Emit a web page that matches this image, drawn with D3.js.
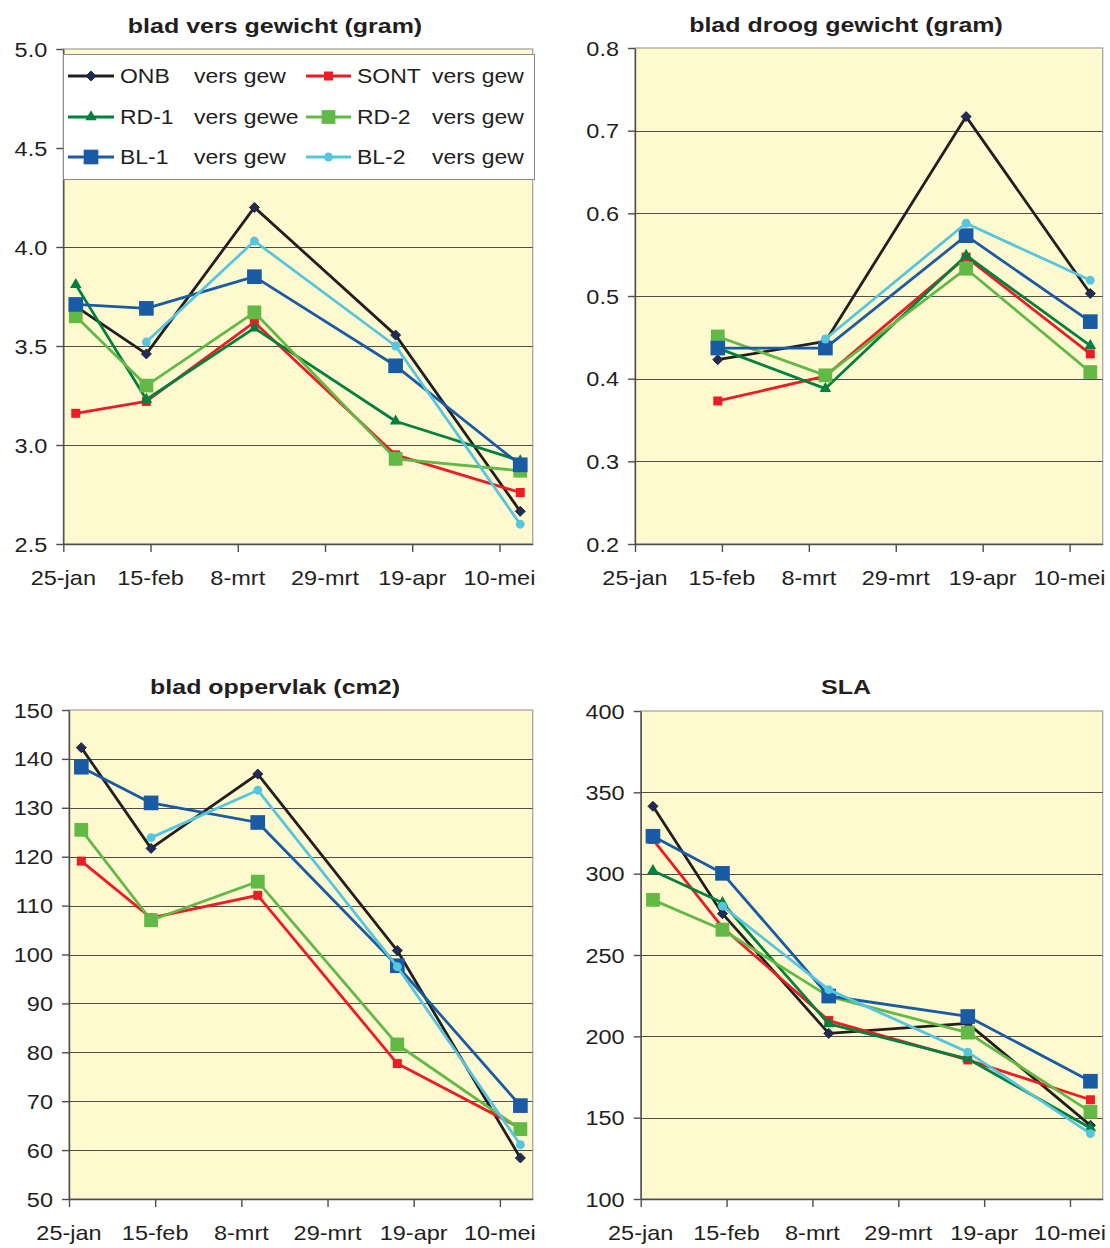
<!DOCTYPE html>
<html><head><meta charset="utf-8">
<script src="https://cdn.jsdelivr.net/npm/d3@7"></script>
<style>body{margin:0;background:#fff}</style>
</head><body>
<svg id="c" width="1110" height="1248"></svg>
<script>
// ---------- data ----------
const sampleDates = ["2009-01-28","2009-02-14","2009-03-12","2009-04-15","2009-05-15"];
const tickDates = ["2009-01-25","2009-02-15","2009-03-08","2009-03-29","2009-04-19","2009-05-10"];
const tickLabels = ["25-jan","15-feb","8-mrt","29-mrt","19-apr","10-mei"];
const xDomain = ["2009-01-25","2009-05-18"];
const seriesNames = ["ONB","SONT","RD-1","RD-2","BL-1","BL-2"];
const legendSuffix = ["vers gew","vers gew","vers gewe","vers gew","vers gew","vers gew"];

const versONB  = [3.70, 3.46, 4.20, 3.555, 2.665];
const versSONT = [3.16, 3.22, 3.62, 2.95, 2.76];
const versRD1  = [3.81, 3.23, 3.59, 3.12, 2.92];
const versRD2  = [3.65, 3.30, 3.67, 2.93, 2.87];
const versBL1  = [3.71, 3.69, 3.85, 3.40, 2.90];
const versBL2  = [null, 3.52, 4.03, 3.50, 2.60];

const droogONB  = [null, 0.423, 0.445, 0.717, 0.503];
const droogSONT = [null, 0.373, 0.403, 0.547, 0.430];
const droogRD1  = [null, 0.437, 0.388, 0.549, 0.440];
const droogRD2  = [null, 0.451, 0.404, 0.533, 0.408];
const droogBL1  = [null, 0.437, 0.437, 0.573, 0.469];
const droogBL2  = [null, null, 0.448, 0.588, 0.519];

const oppONB  = [142.3, 121.7, 136.9, 100.8, 58.4];
const oppSONT = [119.1, 107.5, 112.1, 77.7, 64.5];
const oppRD1  = [null, null, null, null, null];
const oppRD2  = [125.5, 107.0, 114.9, 81.6, 64.3];
const oppBL1  = [138.3, 131.0, 127.0, 97.7, 69.1];
const oppBL2  = [null, 123.9, 133.6, 97.5, 61.1];

const slaONB  = [341.4, 275.4, 201.8, 208.0, 145.3];
const slaSONT = [321.0, 267.0, 209.7, 185.5, 161.0];
const slaRD1  = [301.8, 282.1, 207.6, 186.2, 143.7];
const slaRD2  = [283.9, 265.5, 224.6, 202.3, 153.6];
const slaBL1  = [323.0, 300.2, 224.8, 212.2, 172.4];
const slaBL2  = [null, 280.0, 228.7, 190.3, 140.2];

const titles = ["blad vers gewicht (gram)","blad droog gewicht (gram)","blad oppervlak (cm2)","SLA"];
const yTicksVers = [2.5, 3.0, 3.5, 4.0, 4.5, 5.0];
const yTicksDroog = [0.2, 0.3, 0.4, 0.5, 0.6, 0.7, 0.8];
const yTicksOpp = [50, 60, 70, 80, 90, 100, 110, 120, 130, 140, 150];
const yTicksSla = [100, 150, 200, 250, 300, 350, 400];

// ---------- styles ----------
const styles = [
  {color:"#231f20", sym:d3.symbolSquare, size:50, fill:"#1d2b5e", rot:45},
  {color:"#ed1c24", sym:d3.symbolSquare, size:81, fill:"#ed1c24", rot:0},
  {color:"#00813f", sym:d3.symbolTriangle, size:58, fill:"#00813f", rot:0},
  {color:"#62b946", sym:d3.symbolSquare, size:190, fill:"#62b946", rot:0},
  {color:"#1a5ba6", sym:d3.symbolSquare, size:215, fill:"#1a5ba6", rot:0},
  {color:"#55c5e0", sym:d3.symbolCircle, size:62, fill:"#55c5e0", rot:0}
];
const FONT = "'Liberation Sans', Arial, sans-serif";

const panels = [
  {title:titles[0], ticks:yTicksVers, fmt:d3.format(".1f"), data:[versONB,versSONT,versRD1,versRD2,versBL1,versBL2], legend:true,
   box:{x0:63.3,x1:532.7,y0:49,y1:544,tx:275,ty:33}},
  {title:titles[1], ticks:yTicksDroog, fmt:d3.format(".1f"), data:[droogONB,droogSONT,droogRD1,droogRD2,droogBL1,droogBL2],
   box:{x0:635,x1:1102.7,y0:48,y1:544,tx:846,ty:32}},
  {title:titles[2], ticks:yTicksOpp, fmt:d3.format("d"), data:[oppONB,oppSONT,oppRD1,oppRD2,oppBL1,oppBL2],
   box:{x0:69,x1:532.7,y0:710,y1:1199,tx:275,ty:694}},
  {title:titles[3], ticks:yTicksSla, fmt:d3.format("d"), data:[slaONB,slaSONT,slaRD1,slaRD2,slaBL1,slaBL2],
   box:{x0:640.7,x1:1102.7,y0:711,y1:1199,tx:846,ty:694}}
];

const svg = d3.select("#c");
svg.append("rect").attr("width",1110).attr("height",1248).attr("fill","#fff");
const parse = d3.utcParse("%Y-%m-%d");

function stext(g, x, y, str, opts) {
  const t = g.append("text")
    .attr("transform", `translate(${x},${y}) scale(${opts.sx || 1.12},1)`)
    .attr("font-family", FONT)
    .attr("font-size", opts.size)
    .attr("fill", opts.fill || "#231f20")
    .attr("text-anchor", opts.anchor || "start")
    .text(str);
  if (opts.bold) t.attr("font-weight","bold");
  if (opts.dy) t.attr("dy", opts.dy);
  return t;
}
function marker(g, st, cx, cy) {
  return g.append("path")
    .attr("transform", `translate(${cx},${cy}) rotate(${st.rot})`)
    .attr("d", d3.symbol().type(st.sym).size(st.size))
    .attr("fill", st.fill)
    .attr("stroke", st.rot ? "#231f20" : "none").attr("stroke-width",0.9);
}

panels.forEach(p => {
  const b = p.box;
  const x = d3.scaleUtc().domain(xDomain.map(parse)).range([b.x0, b.x1]);
  const y = d3.scaleLinear().domain(d3.extent(p.ticks)).range([b.y1, b.y0]);
  const g = svg.append("g");

  g.append("rect").attr("x",b.x0).attr("y",b.y0).attr("width",b.x1-b.x0).attr("height",b.y1-b.y0)
    .attr("fill","#fff9cf").attr("stroke","#a6a6a6").attr("stroke-width",1.3);

  // grid
  g.selectAll(".grid").data(p.ticks.slice(1,-1)).join("line")
    .attr("x1",b.x0).attr("x2",b.x1)
    .attr("y1",d=>Math.round(y(d))+0.5).attr("y2",d=>Math.round(y(d))+0.5)
    .attr("stroke","#4d4d4d").attr("stroke-width",1);

  // y axis
  const ya = g.append("g").attr("transform",`translate(${b.x0},0)`)
    .call(d3.axisLeft(y).tickValues(p.ticks).tickFormat("").tickSize(7).tickSizeOuter(0));
  ya.selectAll("path,line").attr("stroke","#4d4d4d").attr("stroke-width",1.4);
  p.ticks.forEach(t => stext(g, b.x0 - 16, y(t), p.fmt(t), {size:21, anchor:"end", dy:"0.36em"}));

  // x axis
  const xa = g.append("g").attr("transform",`translate(0,${b.y1})`)
    .call(d3.axisBottom(x).tickValues(tickDates.map(parse)).tickFormat("").tickSize(8).tickSizeOuter(0));
  xa.selectAll("path,line").attr("stroke","#4d4d4d").attr("stroke-width",1.4);
  tickDates.forEach((d,i) => stext(g, x(parse(d)), b.y1 + 41, tickLabels[i], {size:21, anchor:"middle"}));

  // title
  stext(g, b.tx, b.ty, p.title, {size:21, anchor:"middle", bold:true, sx:1.19});

  // series
  p.data.forEach((vals, si) => {
    const st = styles[si];
    const pts = vals.map((v,i)=>({d:parse(sampleDates[i]), v})).filter(o => o.v != null);
    if (!pts.length) return;
    g.append("path").datum(pts)
      .attr("fill","none").attr("stroke",st.color).attr("stroke-width",2.8)
      .attr("stroke-linejoin","round")
      .attr("d", d3.line().x(o=>x(o.d)).y(o=>y(o.v)));
    pts.forEach(o => marker(g, st, x(o.d), y(o.v)));
  });

  // legend
  if (p.legend) {
    const lg = svg.append("g");
    lg.append("rect").attr("x",63.5).attr("y",54.5).attr("width",471).attr("height",125)
      .attr("fill","#fff").attr("stroke","#8c8c8c").attr("stroke-width",1);
    const rows = [76, 117, 157];
    const cols = [{l0:68,l1:114,tx:120,sx:194},{l0:306,l1:351,tx:357,sx:432}];
    seriesNames.forEach((name, i) => {
      const r = rows[Math.floor(i/2)], c = cols[i%2], st = styles[i];
      lg.append("line").attr("x1",c.l0).attr("x2",c.l1).attr("y1",r).attr("y2",r)
        .attr("stroke",st.color).attr("stroke-width",2.8);
      marker(lg, st, (c.l0+c.l1)/2, r);
      stext(lg, c.tx, r, name, {size:20.5, dy:"0.36em"});
      stext(lg, c.sx, r, legendSuffix[i], {size:20.5, dy:"0.36em"});
    });
  }
});
</script>
</body></html>
